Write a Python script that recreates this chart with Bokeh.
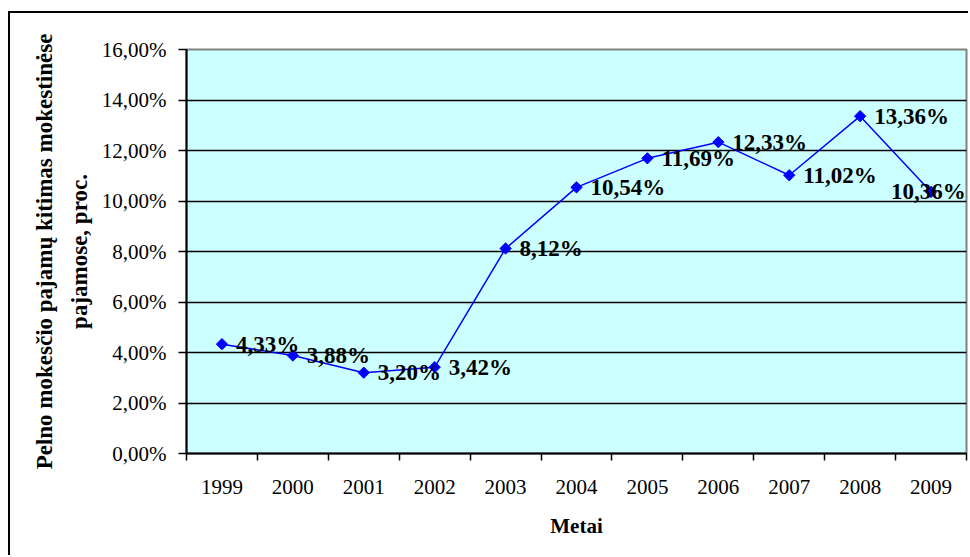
import numpy as np
from bokeh.plotting import figure
from bokeh.models import (ColumnDataSource, Range1d, FixedTicker, LinearAxis,
                          CustomJSTickFormatter, LabelSet)
from bokeh.embed import file_html
from bokeh.resources import INLINE

years = ["1999", "2000", "2001", "2002", "2003", "2004", "2005", "2006", "2007", "2008", "2009"]
values = [4.33, 3.88, 3.20, 3.42, 8.12, 10.54, 11.69, 12.33, 11.02, 13.36, 10.36]
y_ticks = [0, 2, 4, 6, 8, 10, 12, 14, 16]
x_title = "Metai"
y_title_1 = "Pelno mokesčio pajamų kitimas mokestinėse"
y_title_2 = "pajamose, proc."

labels = [f"{v:.2f}".replace(".", ",") + "%" for v in values]
xpos = [i + 0.5 for i in range(len(years))]
bounds = list(range(len(years) + 1))

FONT = "Liberation Serif"

W, H = 960, 544
p = figure(width=W, height=H, output_backend="svg", toolbar_location=None,
           x_range=Range1d(0, len(years)), y_range=Range1d(y_ticks[0], y_ticks[-1]),
           min_border_left=176, min_border_right=4, min_border_top=36, min_border_bottom=104)
p.styles = {"margin-left": "8px", "margin-top": "11px",
            "border-left": "2px solid black", "border-top": "2px solid black"}

p.background_fill_color = "#CCFFFF"
p.border_fill_color = "white"
p.outline_line_color = "#808080"
p.outline_line_width = 2

# grid
p.xgrid.grid_line_color = None
p.ygrid.grid_line_color = "black"
p.ygrid.grid_line_width = 1.5

# y axis
ya = p.yaxis[0]
ya.ticker = FixedTicker(ticks=y_ticks, minor_ticks=[])
ya.formatter = CustomJSTickFormatter(code="return tick.toFixed(2).replace('.', ',') + '%';")
ya.axis_line_color = "black"
ya.axis_line_width = 2
ya.major_tick_line_color = "black"
ya.major_tick_line_width = 1.5
ya.major_tick_out = 8
ya.major_tick_in = 0
ya.minor_tick_line_color = None
ya.major_label_standoff = 12
ya.major_label_text_font = FONT
ya.major_label_text_font_size = "21px"
ya.major_label_text_color = "black"
ya.axis_label = y_title_2
ya.axis_label_text_font = FONT
ya.axis_label_text_font_style = "bold"
ya.axis_label_text_font_size = "23px"
ya.axis_label_text_color = "black"
ya.axis_label_standoff = 7

ya2 = LinearAxis(ticker=FixedTicker(ticks=[]), axis_line_color=None,
                 major_tick_line_color=None, minor_tick_line_color=None,
                 axis_label=y_title_1, axis_label_text_font=FONT,
                 axis_label_text_font_style="bold", axis_label_text_font_size="23px",
                 axis_label_text_color="black", axis_label_standoff=7)
p.add_layout(ya2, "left")

# x axis
xa = p.xaxis[0]
xa.ticker = FixedTicker(ticks=xpos, minor_ticks=bounds)
xa.formatter = CustomJSTickFormatter(args=dict(years=years),
                                     code="return years[Math.round(tick - 0.5)];")
xa.axis_line_color = "black"
xa.axis_line_width = 2
xa.major_tick_line_color = None
xa.major_tick_out = 0
xa.major_tick_in = 0
xa.minor_tick_line_color = "black"
xa.minor_tick_line_width = 1.5
xa.minor_tick_out = 7
xa.minor_tick_in = 0
xa.major_label_standoff = 19
xa.major_label_text_font = FONT
xa.major_label_text_font_size = "21px"
xa.major_label_text_color = "black"
xa.axis_label = x_title
xa.axis_label_text_font = FONT
xa.axis_label_text_font_style = "bold"
xa.axis_label_text_font_size = "21px"
xa.axis_label_text_color = "black"
xa.axis_label_standoff = 17

src = ColumnDataSource(dict(x=xpos, y=values, label=labels))
p.line("x", "y", source=src, line_color="#0000FF", line_width=1.5)
p.scatter("x", "y", source=src, marker="square", angle=np.pi / 4, size=8,
          fill_color="#0000FF", line_color="#0000FF")

src_a = ColumnDataSource(dict(x=xpos[:-1], y=values[:-1], label=labels[:-1]))
src_b = ColumnDataSource(dict(x=xpos[-1:], y=values[-1:], label=labels[-1:]))
for s, off in ((src_a, 14), (src_b, -40)):
    p.add_layout(LabelSet(x="x", y="y", text="label", source=s, x_offset=off,
                          text_baseline="middle", text_align="left",
                          text_font=FONT, text_font_style="bold",
                          text_font_size="23px", text_color="black"))

open("out.html", "w").write(file_html(p, INLINE))
